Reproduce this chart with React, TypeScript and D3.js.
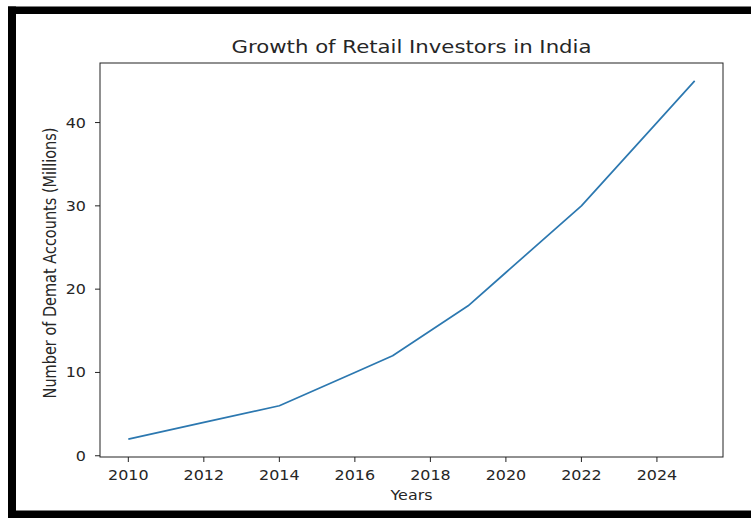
import React, { useEffect, useRef } from 'react';
import * as d3 from 'd3';

const years = [2010, 2012, 2014, 2016, 2017, 2019, 2020, 2022, 2024, 2025];
const accounts = [2, 4, 6, 10, 12, 18, 22, 30, 40, 45];
const xTicks = [2010, 2012, 2014, 2016, 2018, 2020, 2022, 2024];
const yTicks = [0, 10, 20, 30, 40];

const chartTitle = 'Growth of Retail Investors in India';
const xTitle = 'Years';
const yTitle = 'Number of Demat Accounts (Millions)';

const W = 751;
const H = 519;
const FONT = '"DejaVu Sans", sans-serif';
const SX = 1.18; // picture is stretched sideways a little

const App: React.FC = () => {
    const ref = useRef<SVGSVGElement>(null);

    useEffect(() => {
        const svg = d3.select(ref.current);
        svg.selectAll('*').remove();

        const plot = { left: 100, right: 723, top: 63, bottom: 457 };

        // matplotlib-style 5% padding
        const x = d3.scaleLinear().domain([2009.25, 2025.75]).range([plot.left, plot.right]);
        const y = d3.scaleLinear().domain([-0.15, 47.15]).range([plot.bottom, plot.top]);

        svg.append('rect').attr('width', W).attr('height', H).attr('fill', '#fff');

        // black frame around the screenshot
        svg.append('rect').attr('x', 8).attr('y', 6.5).attr('width', W - 8).attr('height', 7.5).attr('fill', '#000');
        svg.append('rect').attr('x', 8).attr('y', 6.5).attr('width', 8).attr('height', 511.5).attr('fill', '#000');
        svg.append('rect').attr('x', 8).attr('y', 510.5).attr('width', W - 8).attr('height', 7.5).attr('fill', '#000');

        const text = (tx: number, ty: number, s: string, size: number, anchor: string, rotate = 0) => {
            const t = svg.append('text')
                .attr('transform', `translate(${tx},${ty}) rotate(${rotate}) scale(${rotate ? 1 : SX},${rotate ? SX : 1})`)
                .attr('text-anchor', anchor)
                .attr('font-family', FONT)
                .attr('font-size', size)
                .attr('fill', '#262626')
                .text(s);
            return t;
        };

        // line
        const line = d3.line<number>()
            .x((_, i) => x(years[i]))
            .y(d => y(d));
        svg.append('path')
            .datum(accounts)
            .attr('d', line)
            .attr('fill', 'none')
            .attr('stroke', '#2c78b0')
            .attr('stroke-width', 1.7)
            .attr('stroke-linejoin', 'round');

        // spines
        svg.append('rect')
            .attr('x', plot.left).attr('y', plot.top)
            .attr('width', plot.right - plot.left).attr('height', plot.bottom - plot.top)
            .attr('fill', 'none').attr('stroke', '#222').attr('stroke-width', 1);

        // x ticks
        xTicks.forEach(t => {
            svg.append('line')
                .attr('x1', x(t)).attr('x2', x(t))
                .attr('y1', plot.bottom).attr('y2', plot.bottom + 5)
                .attr('stroke', '#222');
            text(x(t), 480, String(t), 13.5, 'middle');
        });

        // y ticks
        yTicks.forEach(t => {
            svg.append('line')
                .attr('x1', plot.left - 5).attr('x2', plot.left)
                .attr('y1', y(t)).attr('y2', y(t))
                .attr('stroke', '#222');
            text(86, y(t) + 5, String(t), 13.5, 'end');
        });

        text((plot.left + plot.right) / 2, 53, chartTitle, 18, 'middle');
        text((plot.left + plot.right) / 2, 500, xTitle, 13.5, 'middle');
        text(56, 263, yTitle, 14.5, 'middle', -90);
    }, []);

    return (
        <svg
            ref={ref}
            width={W}
            height={H}
            style={{ position: 'absolute', left: 0, top: 0 }}
        />
    );
};

export default App;
